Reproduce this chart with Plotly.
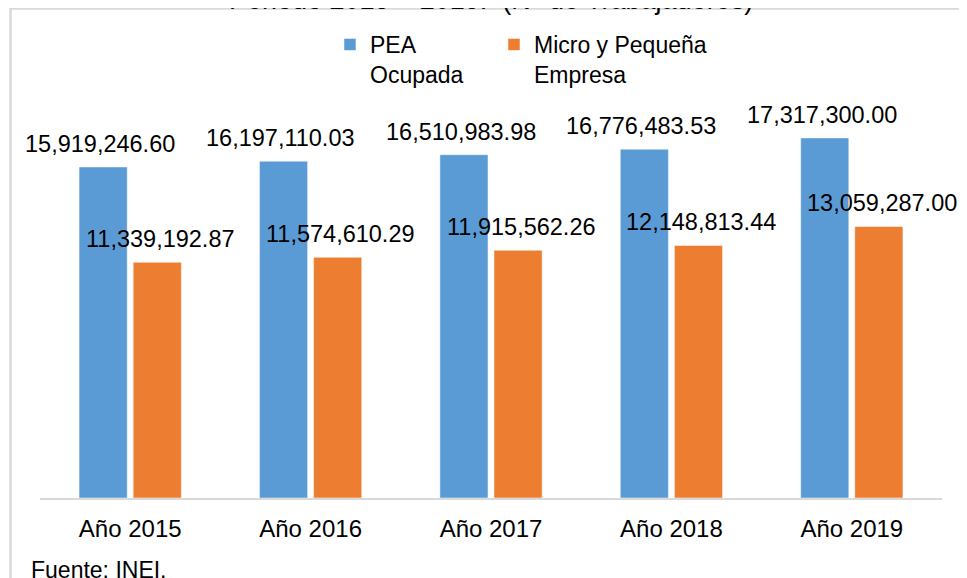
import plotly.graph_objects as go

# Data
years = ["Año 2015", "Año 2016", "Año 2017", "Año 2018", "Año 2019"]
pea_ocupada = [15919246.60, 16197110.03, 16510983.98, 16776483.53, 17317300.00]
micro_pequena = [11339192.87, 11574610.29, 11915562.26, 12148813.44, 13059287.00]

BLUE = "#5B9BD5"
ORANGE = "#ED7D31"
GREY = "#D9D9D9"
FONT = "Liberation Sans, Arial, sans-serif"

fig = go.Figure()
fig.add_trace(go.Bar(x=years, y=pea_ocupada, name="PEA<br>Ocupada", legend="legend",
                     marker=dict(color=BLUE, line=dict(color="white", width=0.5))))
fig.add_trace(go.Bar(x=years, y=micro_pequena, name="Micro y Pequeña<br>Empresa", legend="legend2",
                     marker=dict(color=ORANGE, line=dict(color="white", width=0.5))))

# data labels
annotations = []
for yr, v1, v2 in zip(years, pea_ocupada, micro_pequena):
    for v, dx in ((v1, -30), (v2, 30)):
        annotations.append(dict(
            x=yr, y=v, xref="x", yref="y", text=f"{v:,.2f}", showarrow=False,
            xshift=dx, yshift=8, yanchor="bottom", xanchor="center",
            font=dict(size=23.5, color="black", family=FONT),
        ))

# cropped title and source note
annotations.append(dict(
    x=0.5, y=1.2073, xref="paper", yref="paper", showarrow=False,
    text="Periodo 2015 – 2019.  (N° de Trabajadores)",
    xanchor="center", yanchor="bottom",
    font=dict(size=27, color="black", family=FONT),
))
annotations.append(dict(
    x=-0.012, y=-0.143, xref="paper", yref="paper", showarrow=False,
    text="Fuente: INEI.", xanchor="left", yanchor="top",
    font=dict(size=23, color="black", family=FONT),
))

legend_style = dict(orientation="h", y=1.1935, xanchor="left", yanchor="top",
                    font=dict(size=23, color="black", family=FONT),
                    valign="top", bgcolor="rgba(0,0,0,0)")

fig.update_layout(
    width=967, height=578,
    margin=dict(l=32, r=33, t=92, b=88, autoexpand=False),
    paper_bgcolor="white", plot_bgcolor="white",
    font=dict(family=FONT, size=23, color="black"),
    barmode="group", bargap=0.4, bargroupgap=0.11,
    showlegend=True,
    legend=dict(x=0.3215, **legend_style),
    legend2=dict(x=0.5033, **legend_style),
    annotations=annotations,
    shapes=[dict(type="rect", xref="paper", yref="paper",
                 x0=-0.0327, x1=1.2, y0=-0.5, y1=1.2299,
                 line=dict(color=GREY, width=2.5), layer="below")],
)
fig.update_xaxes(showline=True, linecolor=GREY, linewidth=2, ticks="",
                 range=[-0.5, 4.5], ticklabelstandoff=8,
                 tickfont=dict(size=24, color="black", family=FONT))
fig.update_yaxes(visible=False, range=[0, 19.14e6], showgrid=False)

fig.write_html("out.html")
